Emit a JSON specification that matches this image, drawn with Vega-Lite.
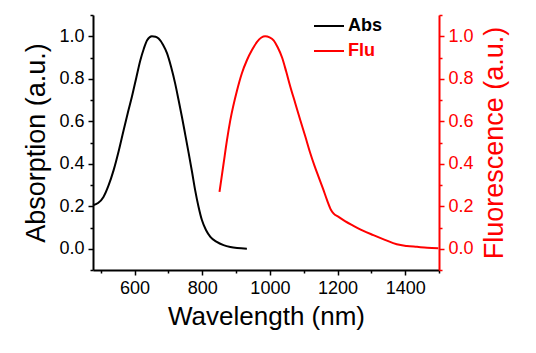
{
  "$schema": "https://vega.github.io/schema/vega-lite/v6.json",
  "width": 346,
  "height": 255,
  "autosize": "none",
  "padding": {"left": 93, "top": 15, "right": 97, "bottom": 83},
  "background": "white",
  "config": {
    "view": {"stroke": null},
    "font": "Liberation Sans",
    "axis": {"labelFont": "Liberation Sans", "titleFont": "Liberation Sans", "labelFontSize": 18, "titleFontSize": 27, "titleFontWeight": "normal", "grid": false, "domainWidth": 2, "tickWidth": 1.5, "labelPadding": 4}
  },
  "data": {"values": [
    {"series": "Abs", "wl": 477, "val": 0.205},
    {"series": "Abs", "wl": 492, "val": 0.215},
    {"series": "Abs", "wl": 508, "val": 0.244},
    {"series": "Abs", "wl": 523, "val": 0.298},
    {"series": "Abs", "wl": 538, "val": 0.37},
    {"series": "Abs", "wl": 553, "val": 0.46},
    {"series": "Abs", "wl": 567.5, "val": 0.558},
    {"series": "Abs", "wl": 580, "val": 0.64},
    {"series": "Abs", "wl": 592, "val": 0.715},
    {"series": "Abs", "wl": 605, "val": 0.805},
    {"series": "Abs", "wl": 617, "val": 0.887},
    {"series": "Abs", "wl": 627, "val": 0.94},
    {"series": "Abs", "wl": 637, "val": 0.981},
    {"series": "Abs", "wl": 651, "val": 1.0},
    {"series": "Abs", "wl": 662, "val": 0.998},
    {"series": "Abs", "wl": 671, "val": 0.989},
    {"series": "Abs", "wl": 684, "val": 0.96},
    {"series": "Abs", "wl": 696, "val": 0.919},
    {"series": "Abs", "wl": 708, "val": 0.855},
    {"series": "Abs", "wl": 720, "val": 0.777},
    {"series": "Abs", "wl": 730, "val": 0.70},
    {"series": "Abs", "wl": 740, "val": 0.62},
    {"series": "Abs", "wl": 750, "val": 0.535},
    {"series": "Abs", "wl": 760, "val": 0.449},
    {"series": "Abs", "wl": 770, "val": 0.36},
    {"series": "Abs", "wl": 779, "val": 0.276},
    {"series": "Abs", "wl": 789, "val": 0.198},
    {"series": "Abs", "wl": 799, "val": 0.135},
    {"series": "Abs", "wl": 811, "val": 0.088},
    {"series": "Abs", "wl": 824, "val": 0.056},
    {"series": "Abs", "wl": 843, "val": 0.032},
    {"series": "Abs", "wl": 863, "val": 0.017},
    {"series": "Abs", "wl": 883, "val": 0.008},
    {"series": "Abs", "wl": 903, "val": 0.003},
    {"series": "Abs", "wl": 932, "val": 0.0},
    {"series": "Flu", "wl": 851, "val": 0.268},
    {"series": "Flu", "wl": 863, "val": 0.40},
    {"series": "Flu", "wl": 873, "val": 0.51},
    {"series": "Flu", "wl": 883, "val": 0.605},
    {"series": "Flu", "wl": 903, "val": 0.746},
    {"series": "Flu", "wl": 917, "val": 0.825},
    {"series": "Flu", "wl": 932, "val": 0.887},
    {"series": "Flu", "wl": 947, "val": 0.935},
    {"series": "Flu", "wl": 962, "val": 0.973},
    {"series": "Flu", "wl": 975, "val": 0.994},
    {"series": "Flu", "wl": 986, "val": 1.0},
    {"series": "Flu", "wl": 999, "val": 0.995},
    {"series": "Flu", "wl": 1011, "val": 0.981},
    {"series": "Flu", "wl": 1023, "val": 0.948},
    {"series": "Flu", "wl": 1036, "val": 0.900},
    {"series": "Flu", "wl": 1048, "val": 0.835},
    {"series": "Flu", "wl": 1060, "val": 0.765},
    {"series": "Flu", "wl": 1075, "val": 0.685},
    {"series": "Flu", "wl": 1090, "val": 0.605},
    {"series": "Flu", "wl": 1105, "val": 0.527},
    {"series": "Flu", "wl": 1119, "val": 0.452},
    {"series": "Flu", "wl": 1132, "val": 0.39},
    {"series": "Flu", "wl": 1144, "val": 0.338},
    {"series": "Flu", "wl": 1157, "val": 0.283},
    {"series": "Flu", "wl": 1169, "val": 0.229},
    {"series": "Flu", "wl": 1180, "val": 0.185},
    {"series": "Flu", "wl": 1188, "val": 0.166},
    {"series": "Flu", "wl": 1203, "val": 0.15},
    {"series": "Flu", "wl": 1222, "val": 0.13},
    {"series": "Flu", "wl": 1247, "val": 0.108},
    {"series": "Flu", "wl": 1275, "val": 0.085},
    {"series": "Flu", "wl": 1306, "val": 0.064},
    {"series": "Flu", "wl": 1340, "val": 0.042},
    {"series": "Flu", "wl": 1375, "val": 0.021},
    {"series": "Flu", "wl": 1405, "val": 0.013},
    {"series": "Flu", "wl": 1435, "val": 0.009},
    {"series": "Flu", "wl": 1465, "val": 0.005},
    {"series": "Flu", "wl": 1498, "val": 0.002}
  ]},
  "encoding": {
    "x": {
      "field": "wl", "type": "quantitative",
      "scale": {"domain": [477, 1500], "nice": false, "zero": false},
      "axis": {
        "title": "Wavelength (nm)", "titleFontSize": 26, "titlePadding": 6,
        "values": [500, 600, 700, 800, 900, 1000, 1100, 1200, 1300, 1400, 1500],
        "format": "d",
        "labelExpr": "datum.value % 200 === 0 ? datum.label : ''",
        "tickSize": {"condition": {"test": "datum.value % 200 === 0", "value": 5}, "value": 3},
        "domainColor": "black", "tickColor": "black", "labelColor": "black", "titleColor": "black",
        "labelFlush": false
      }
    },
    "color": {
      "field": "series", "type": "nominal",
      "scale": {"domain": ["Abs", "Flu"], "range": ["#000000", "#ff0000"]},
      "legend": {
        "title": null, "orient": "none", "legendX": 220, "legendY": -5,
        "symbolType": "stroke", "symbolSize": 900, "symbolStrokeWidth": 2,
        "labelFont": "Liberation Sans", "labelFontSize": 18, "labelFontWeight": "bold",
        "labelOffset": 3, "rowPadding": -5, "padding": 0,
        "encode": {"labels": {"update": {"fill": {"signal": "datum.value === 'Flu' ? '#ff0000' : '#000000'"}}}}
      }
    }
  },
  "layer": [
    {
      "transform": [{"filter": "datum.series === 'Abs'"}],
      "mark": {"type": "line", "strokeWidth": 2, "interpolate": "monotone"},
      "encoding": {
        "y": {
          "field": "val", "type": "quantitative",
          "scale": {"domain": [-0.1, 1.1], "nice": false, "zero": false},
          "axis": {
            "orient": "left", "title": "Absorption (a.u.)", "titlePadding": 8,
            "values": [-0.1, 0, 0.1, 0.2, 0.3, 0.4, 0.5, 0.6, 0.7, 0.8, 0.9, 1.0, 1.1],
            "labelExpr": "(round(datum.value*10) % 2 === 0 && datum.value > -0.05 && datum.value < 1.05) ? format(datum.value, '.1f') : ''",
            "tickSize": {"condition": {"test": "round(datum.value*10) % 2 === 0", "value": 5}, "value": 3},
            "domainColor": "black", "tickColor": "black", "labelColor": "black", "titleColor": "black"
          }
        }
      }
    },
    {
      "transform": [{"filter": "datum.series === 'Flu'"}],
      "mark": {"type": "line", "strokeWidth": 2, "interpolate": "monotone"},
      "encoding": {
        "y": {
          "field": "val", "type": "quantitative",
          "scale": {"domain": [-0.1, 1.1], "nice": false, "zero": false},
          "axis": {
            "orient": "right", "title": "Fluorescence (a.u.)", "titlePadding": 8, "titleAngle": 270, "titleBaseline": "top",
            "values": [-0.1, 0, 0.1, 0.2, 0.3, 0.4, 0.5, 0.6, 0.7, 0.8, 0.9, 1.0, 1.1],
            "labelExpr": "(round(datum.value*10) % 2 === 0 && datum.value > -0.05 && datum.value < 1.05) ? format(datum.value, '.1f') : ''",
            "tickSize": {"condition": {"test": "round(datum.value*10) % 2 === 0", "value": 5}, "value": 3},
            "domainColor": "#ff0000", "tickColor": "#ff0000", "labelColor": "#ff0000", "titleColor": "#ff0000"
          }
        }
      }
    }
  ],
  "resolve": {"scale": {"y": "independent"}, "axis": {"y": "independent"}}
}
